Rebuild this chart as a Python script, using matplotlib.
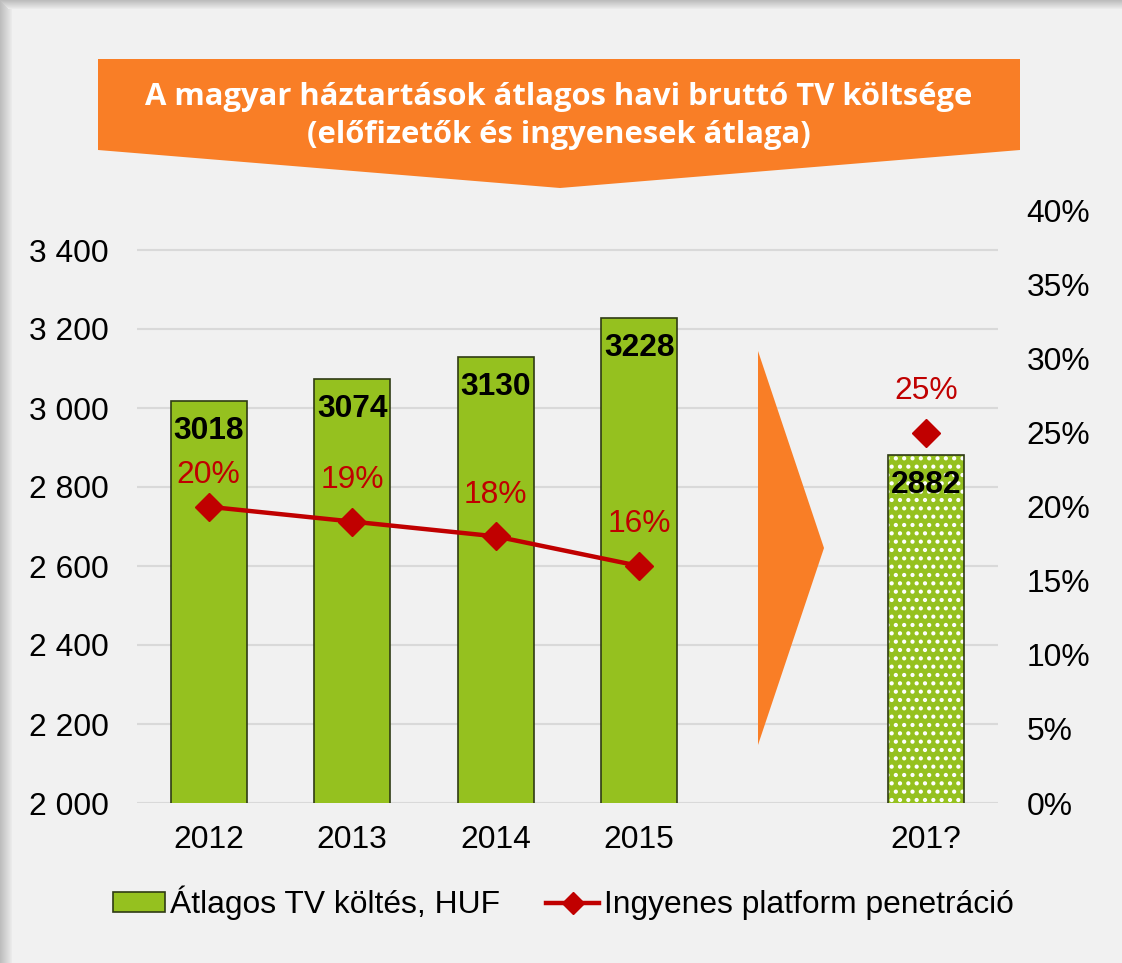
import matplotlib.pyplot as plt
import matplotlib.patches as mpatches
from matplotlib.lines import Line2D
import numpy as np

plt.rcParams['font.family'] = ['Liberation Sans', 'DejaVu Sans']
plt.rcParams['hatch.linewidth'] = 1.8

# data
years = ['2012', '2013', '2014', '2015']
spend = [3018, 3074, 3130, 3228]
penetration = [0.20, 0.19, 0.18, 0.16]
future_label = '201?'
future_spend = 2882
future_pen = 0.25

left_ticks = [2000, 2200, 2400, 2600, 2800, 3000, 3200, 3400]
right_ticks = [0, 0.05, 0.10, 0.15, 0.20, 0.25, 0.30, 0.35, 0.40]

title = 'A magyar háztartások átlagos havi bruttó TV költsége\n(előfizetők és ingyenesek átlaga)'
legend_bar = 'Átlagos TV költés, HUF'
legend_line = 'Ingyenes platform penetráció'

green = '#95c11f'
red = '#c00000'
orange = '#f97e26'
fs = 22.9

W, H = 1122, 963
fig = plt.figure(figsize=(W / 100, H / 100), dpi=100)
fig.patch.set_facecolor('#f1f1f1')

# shadow frame on left / top
bg = fig.add_axes([0, 0, 1, 1], zorder=-10)
bg.set_axis_off()
bg.set_xlim(0, W)
bg.set_ylim(H, 0)
for i in range(12):
    c = 0.74 + 0.016 * i
    bg.add_patch(mpatches.Rectangle((i, 0), 1, H, color=(c, c, c), lw=0))
for i in range(9):
    c = 0.74 + 0.022 * i
    bg.add_patch(mpatches.Rectangle((i, i), W, 1, color=(c, c, c), lw=0))
bg.add_patch(mpatches.Rectangle((12, 9), W, H, color='#f1f1f1', lw=0))

# title banner
banner = [(98, 59), (1020, 59), (1020, 150), (560, 188), (98, 150)]
bg.add_patch(mpatches.Polygon(banner, closed=True, color=orange, lw=0))
bg.text(559, 116, title, ha='center', va='center', color='white',
        fontsize=22.3, fontweight='bold', family='Open Sans', linespacing=1.36)

ax = fig.add_axes([137 / W, 1 - 803 / H, (998 - 137) / W, (803 - 210.5) / H])
ax.set_facecolor('none')
ax2 = ax.twinx()

pos = np.arange(len(years))
fpos = len(years) + 1

ax.bar(pos, spend, width=0.53, color=green, edgecolor='#2f3b14', lw=1.2, zorder=3)
ax.bar(fpos, future_spend, width=0.53, color=green, edgecolor='white',
       hatch='..', lw=0, zorder=3)
ax.bar(fpos, future_spend, width=0.53, color='none', edgecolor='#2f3b14',
       lw=1.2, zorder=4)

for x, v in zip(list(pos) + [fpos], spend + [future_spend]):
    ax.annotate(str(v), (x, v), xytext=(0, -22), textcoords='offset points',
                ha='center', va='center', fontsize=fs, fontweight='bold',
                color='black', zorder=6)

ax.set_ylim(2000, 3500)
ax.set_yticks(left_ticks)
ax.set_yticklabels([f'{t:,}'.replace(',', ' ') for t in left_ticks])
ax.set_xlim(-0.5, fpos + 0.5)
ax.set_xticks(list(pos) + [fpos])
ax.set_xticklabels(years + [future_label])
ax.yaxis.grid(True, color='#d9d9d9', lw=1.5, zorder=0)
ax.set_axisbelow(True)
ax.tick_params(axis='y', length=0, pad=20.5, labelsize=fs)
ax.tick_params(axis='x', length=0, pad=16, labelsize=fs)
for s in ax.spines.values():
    s.set_visible(False)

ax2.plot(pos, penetration, color=red, lw=3.2, marker='D', markersize=14,
         zorder=5)
ax2.plot([fpos], [future_pen], color=red, lw=0, marker='D', markersize=14,
         zorder=5)
offsets = [23, 30, 30, 30]
for x, p, o in zip(pos, penetration, offsets):
    ax2.annotate(f'{p:.0%}', (x, p), xytext=(0, o), textcoords='offset points',
                 ha='center', va='center', fontsize=fs, color=red)
ax2.annotate(f'{future_pen:.0%}', (fpos, future_pen), xytext=(0, 30),
             textcoords='offset points', ha='center', va='center',
             fontsize=fs, color=red)
ax2.set_ylim(0, 0.4)
ax2.set_yticks(right_ticks)
ax2.set_yticklabels([f'{t:.0%}' for t in right_ticks])
ax2.tick_params(axis='y', length=0, pad=20.5, labelsize=fs)
for s in ax2.spines.values():
    s.set_visible(False)

# arrow drawn over the gridlines
fg = fig.add_axes([0, 0, 1, 1], zorder=10)
fg.set_axis_off()
fg.set_xlim(0, W)
fg.set_ylim(H, 0)
fg.add_patch(mpatches.Polygon([(758, 351), (824, 548), (758, 745)],
                              closed=True, color=orange, lw=0))

handles = [mpatches.Patch(facecolor=green, edgecolor='#2f3b14', lw=1.2),
           Line2D([], [], color=red, lw=3.2, marker='D', markersize=11)]
fig.legend(handles, [legend_bar, legend_line], loc='center',
           bbox_to_anchor=(0.502, 1 - 903 / H), ncol=2, frameon=False,
           fontsize=fs, handlelength=1.65, handleheight=0.6,
           handletextpad=0.15, columnspacing=1.45)

fig.savefig('out.png', dpi=100, facecolor=fig.get_facecolor())
